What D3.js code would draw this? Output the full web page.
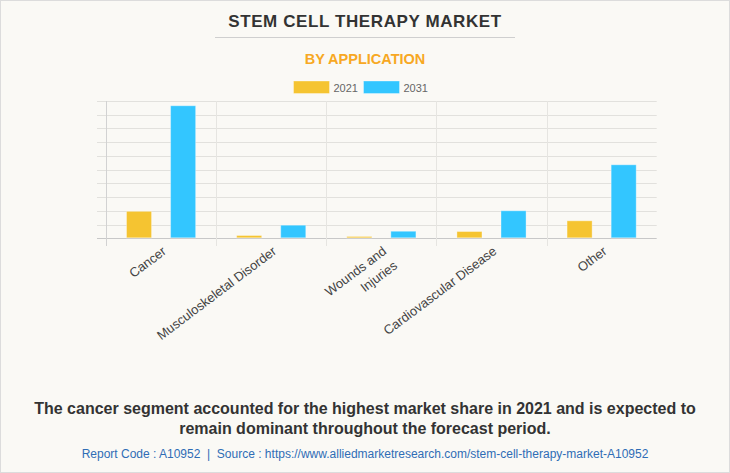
<!DOCTYPE html>
<html>
<head>
<meta charset="utf-8">
<script src="https://cdn.jsdelivr.net/npm/d3@7"></script>
<style>
  html, body { margin: 0; padding: 0; background: #fff; }
  svg { display: block; font-family: "Liberation Sans", Arial, sans-serif; }
</style>
</head>
<body>
<svg id="chart" width="730" height="473"></svg>
<script>
// ---- data ----
const categories = ["Cancer", "Musculoskeletal Disorder", "Wounds and\nInjuries", "Cardiovascular Disease", "Other"];
const seriesNames = ["2021", "2031"];
const values2021 = [2.0, 0.24, 0.17, 0.53, 1.31];
const values2031 = [9.69, 0.99, 0.55, 2.04, 5.39];
const yTicks = [0, 1, 2, 3, 4, 5, 6, 7, 8, 9, 10];
const colors = ["#F5C431", "#33C6FF"];

const title = "STEM CELL THERAPY MARKET";
const subtitle = "BY APPLICATION";
const footer1 = "The cancer segment accounted for the highest market share in 2021 and is expected to";
const footer2 = "remain dominant throughout the forecast period.";
const source = "Report Code : A10952  |  Source : https://www.alliedmarketresearch.com/stem-cell-therapy-market-A10952";

const W = 730, H = 473;
const svg = d3.select("#chart");

// background + border
svg.append("rect").attr("x", 0.5).attr("y", 0.5).attr("width", W - 1).attr("height", H - 1)
  .attr("fill", "#FAF9F5").attr("stroke", "#dcdcdc");

// title
svg.append("text").attr("x", 365).attr("y", 27).attr("text-anchor", "middle")
  .attr("font-size", 17).attr("font-weight", "bold").attr("fill", "#333")
  .attr("letter-spacing", 0.6).text(title);
svg.append("line").attr("x1", 215).attr("x2", 515).attr("y1", 37.5).attr("y2", 37.5)
  .attr("stroke", "#cfcfcf");
svg.append("text").attr("x", 365).attr("y", 64).attr("text-anchor", "middle")
  .attr("font-size", 14.5).attr("font-weight", "bold").attr("fill", "#F7A823").text(subtitle);

// legend
const legend = svg.append("g");
seriesNames.forEach((s, i) => {
  const lx = 293.5 + i * 70;
  legend.append("rect").attr("x", lx).attr("y", 81).attr("width", 36).attr("height", 12.5)
    .attr("fill", colors[i]).attr("stroke", "#fff").attr("stroke-opacity", 0.35);
  legend.append("text").attr("x", lx + 40).attr("y", 91.5).attr("font-size", 11)
    .attr("fill", "#666").text(s);
});

// scales
const x0 = d3.scaleBand().domain(categories).range([106, 656.7]).paddingInner(0).paddingOuter(0);
// inner layout: 20 | 26 | 18 | 26 | 20
const x1 = d3.scaleBand().domain(seriesNames).range([20, x0.bandwidth() - 20])
  .paddingInner(18 / 44).paddingOuter(0);
const y = d3.scaleLinear().domain([0, 10]).range([238.3, 101]);

const g = svg.append("g");

// horizontal grid
g.selectAll("line.hg").data(yTicks).join("line").attr("class", "hg")
  .attr("x1", 97).attr("x2", 656.7)
  .attr("y1", d => Math.round(y(d)) + 0.5).attr("y2", d => Math.round(y(d)) + 0.5)
  .attr("stroke", d => d === 0 ? "#c8c8c8" : "#e2e1dd").attr("stroke-width", 1);

// vertical grid (band boundaries)
const vb = categories.map(c => x0(c));
g.selectAll("line.vg").data(vb).join("line").attr("class", "vg")
  .attr("x1", d => Math.round(d) + 0.5).attr("x2", d => Math.round(d) + 0.5)
  .attr("y1", 101).attr("y2", 246)
  .attr("stroke", (d, i) => i === 0 ? "#d2d2d2" : "#e6e5e1");

// bars
const data = categories.map((c, i) => ({ cat: c, vals: [values2021[i], values2031[i]] }));
const grp = g.selectAll("g.cat").data(data).join("g").attr("class", "cat")
  .attr("transform", d => `translate(${x0(d.cat)},0)`);
grp.selectAll("rect").data(d => d.vals.map((v, i) => ({ s: seriesNames[i], v, i })))
  .join("rect")
  .attr("x", d => x1(d.s) + 0.5)
  .attr("y", d => y(d.v) + 0.5)
  .attr("width", x1.bandwidth() - 1)
  .attr("height", d => Math.max(0, y(0) - y(d.v) - 1))
  .attr("fill", d => colors[d.i])
  .attr("stroke", "#fff").attr("stroke-opacity", 0.35);

// x labels
const ang = -37;
const lab = g.selectAll("text.xl").data(categories).join("text").attr("class", "xl")
  .attr("transform", d => `translate(${x0(d) + x0.bandwidth() / 2 + 6},253) rotate(${ang})`)
  .attr("text-anchor", "end").attr("font-size", 13).attr("fill", "#444");
lab.each(function (d) {
  const lines = d.split("\n");
  const t = d3.select(this);
  lines.forEach((l, i) => {
    t.append("tspan").attr("x", 0).attr("dy", i === 0 ? 0 : 18).text(l);
  });
});

// footer
svg.append("text").attr("x", 365).attr("y", 414).attr("text-anchor", "middle")
  .attr("font-size", 16).attr("font-weight", "bold").attr("fill", "#333").text(footer1);
svg.append("text").attr("x", 365).attr("y", 434).attr("text-anchor", "middle")
  .attr("font-size", 16).attr("font-weight", "bold").attr("fill", "#333").text(footer2);
svg.append("text").attr("x", 365).attr("y", 458).attr("text-anchor", "middle")
  .attr("font-size", 12).attr("fill", "#2F6DB5").attr("xml:space", "preserve").text(source);
</script>
</body>
</html>
